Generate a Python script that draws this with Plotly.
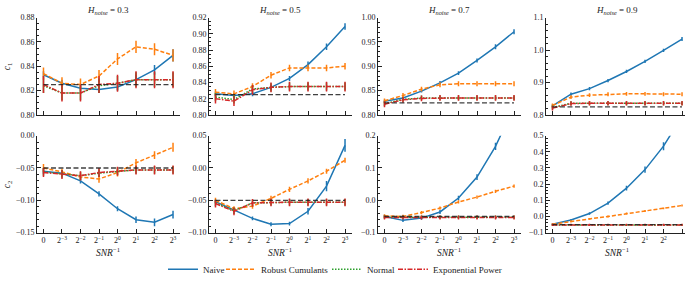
import plotly.graph_objects as go

# ---------------- data ----------------
H_NOISE = ["0.3", "0.5", "0.7", "0.9"]
X_TICKS = ["0", "2<sup>−3</sup>", "2<sup>−2</sup>", "2<sup>−1</sup>", "2<sup>0</sup>",
           "2<sup>1</sup>", "2<sup>2</sup>", "2<sup>3</sup>"]
SERIES = ["Naive", "Robust Cumulants", "Normal", "Exponential Power"]

TRUE_C1 = 0.825
TRUE_C2 = -0.05

# c1 estimates, one list per H_noise
naive_c1 = [
    [0.833, 0.826, 0.822, 0.821, 0.823, 0.829, 0.837, 0.849],
    [0.826, 0.824, 0.826, 0.834, 0.845, 0.862, 0.884, 0.909],
    [0.828, 0.835, 0.849, 0.866, 0.886, 0.912, 0.940, 0.971],
    [0.828, 0.864, 0.881, 0.906, 0.934, 0.965, 0.999, 1.034],
]
robust_c1 = [
    [0.834, 0.826, 0.825, 0.832, 0.846, 0.856, 0.854, 0.849],
    [0.828, 0.826, 0.835, 0.849, 0.858, 0.858, 0.858, 0.860],
    [0.829, 0.840, 0.853, 0.862, 0.864, 0.864, 0.864, 0.864],
    [0.829, 0.855, 0.861, 0.864, 0.865, 0.865, 0.864, 0.864],
]
normal_c1 = [
    [0.824, 0.818, 0.818, 0.824, 0.826, 0.829, 0.829, 0.829],
    [0.822, 0.819, 0.832, 0.834, 0.835, 0.835, 0.835, 0.835],
    [0.823, 0.832, 0.835, 0.835, 0.835, 0.835, 0.835, 0.835],
    [0.823, 0.836, 0.836, 0.836, 0.836, 0.836, 0.836, 0.836],
]
exppow_c1 = [
    [0.825, 0.818, 0.818, 0.825, 0.826, 0.829, 0.829, 0.829],
    [0.820, 0.817, 0.831, 0.834, 0.835, 0.835, 0.835, 0.835],
    [0.822, 0.831, 0.834, 0.835, 0.835, 0.835, 0.835, 0.835],
    [0.821, 0.835, 0.836, 0.836, 0.836, 0.836, 0.836, 0.836],
]

# c2 estimates
naive_c2 = [
    [-0.055, -0.058, -0.070, -0.090, -0.113, -0.130, -0.134, -0.122],
    [-0.052, -0.065, -0.078, -0.087, -0.086, -0.067, -0.028, 0.035],
    [-0.050, -0.062, -0.055, -0.036, 0.007, 0.072, 0.167, 0.290],
    [-0.048, -0.022, 0.018, 0.083, 0.175, 0.290, 0.435, 0.620],
]
robust_c2 = [
    [-0.050, -0.056, -0.064, -0.067, -0.057, -0.042, -0.030, -0.018],
    [-0.050, -0.063, -0.059, -0.047, -0.033, -0.020, -0.005, 0.012],
    [-0.048, -0.050, -0.038, -0.024, -0.005, 0.010, 0.028, 0.044],
    [-0.048, -0.030, -0.015, 0.000, 0.018, 0.034, 0.050, 0.068],
]
normal_c2 = [
    [-0.056, -0.059, -0.062, -0.058, -0.055, -0.053, -0.053, -0.053],
    [-0.054, -0.066, -0.054, -0.053, -0.053, -0.053, -0.053, -0.053],
    [-0.052, -0.052, -0.052, -0.052, -0.052, -0.052, -0.052, -0.052],
    [-0.052, -0.052, -0.052, -0.052, -0.052, -0.052, -0.052, -0.052],
]
exppow_c2 = [
    [-0.057, -0.060, -0.062, -0.057, -0.055, -0.053, -0.053, -0.053],
    [-0.055, -0.067, -0.054, -0.053, -0.053, -0.053, -0.053, -0.053],
    [-0.053, -0.053, -0.053, -0.053, -0.053, -0.053, -0.053, -0.053],
    [-0.052, -0.052, -0.052, -0.052, -0.052, -0.052, -0.052, -0.052],
]

# error bar half-widths
naive_c1_err = [
    [0.003, 0.003, 0.003, 0.003, 0.003, 0.004, 0.004, 0.005],
    [0.003, 0.003, 0.003, 0.003, 0.003, 0.004, 0.004, 0.004],
    [0.003, 0.003, 0.003, 0.004, 0.004, 0.004, 0.005, 0.005],
    [0.005, 0.005, 0.005, 0.005, 0.005, 0.005, 0.005, 0.006],
]
robust_c1_err = [
    [0.005, 0.005, 0.005, 0.005, 0.005, 0.005, 0.005, 0.005],
    [0.004, 0.004, 0.004, 0.004, 0.004, 0.004, 0.004, 0.004],
    [0.005, 0.005, 0.005, 0.005, 0.005, 0.005, 0.005, 0.005],
    [0.006, 0.006, 0.006, 0.006, 0.006, 0.006, 0.006, 0.006],
]
normal_c1_err = [
    [0.006, 0.006, 0.006, 0.006, 0.006, 0.006, 0.006, 0.006],
    [0.005, 0.005, 0.005, 0.005, 0.005, 0.005, 0.005, 0.005],
    [0.005, 0.005, 0.005, 0.005, 0.005, 0.005, 0.005, 0.005],
    [0.006, 0.006, 0.006, 0.006, 0.006, 0.006, 0.006, 0.006],
]
exppow_c1_err = [
    [0.007, 0.007, 0.007, 0.007, 0.007, 0.007, 0.007, 0.007],
    [0.006, 0.006, 0.006, 0.006, 0.006, 0.006, 0.006, 0.006],
    [0.006, 0.006, 0.006, 0.006, 0.006, 0.006, 0.006, 0.006],
    [0.007, 0.007, 0.007, 0.007, 0.007, 0.007, 0.007, 0.007],
]
naive_c2_err = [
    [0.004, 0.004, 0.004, 0.004, 0.004, 0.005, 0.006, 0.006],
    [0.003, 0.003, 0.003, 0.003, 0.003, 0.005, 0.008, 0.010],
    [0.005, 0.005, 0.005, 0.006, 0.007, 0.009, 0.011, 0.013],
    [0.006, 0.006, 0.008, 0.010, 0.015, 0.020, 0.025, 0.030],
]
robust_c2_err = [
    [0.006, 0.005, 0.005, 0.006, 0.006, 0.006, 0.006, 0.007],
    [0.004, 0.004, 0.004, 0.004, 0.004, 0.004, 0.004, 0.004],
    [0.005, 0.005, 0.005, 0.005, 0.005, 0.005, 0.005, 0.005],
    [0.006, 0.006, 0.006, 0.006, 0.006, 0.006, 0.006, 0.006],
]
normal_c2_err = [
    [0.006, 0.006, 0.006, 0.006, 0.006, 0.006, 0.006, 0.006],
    [0.005, 0.005, 0.005, 0.005, 0.005, 0.005, 0.005, 0.005],
    [0.005, 0.005, 0.005, 0.005, 0.005, 0.005, 0.005, 0.005],
    [0.006, 0.006, 0.006, 0.006, 0.006, 0.006, 0.006, 0.006],
]
exppow_c2_err = [
    [0.007, 0.007, 0.007, 0.007, 0.007, 0.007, 0.007, 0.007],
    [0.006, 0.006, 0.006, 0.006, 0.006, 0.006, 0.006, 0.006],
    [0.006, 0.006, 0.006, 0.006, 0.006, 0.006, 0.006, 0.006],
    [0.007, 0.007, 0.007, 0.007, 0.007, 0.007, 0.007, 0.007],
]

# axis ranges and tick steps [min, max, major, minor, fmt]
C1_AXES = [
    [0.80, 0.88, 0.02, 0.005, ".2f"],
    [0.80, 0.92, 0.02, 0.005, ".2f"],
    [0.80, 1.00, 0.05, 0.01, ".2f"],
    [0.80, 1.10, 0.1, 0.02, ".1f"],
]
C2_AXES = [
    [-0.15, 0.00, 0.05, 0.01, ".2f"],
    [-0.10, 0.05, 0.05, 0.01, ".2f"],
    [-0.10, 0.20, 0.1, 0.02, ".1f"],
    [-0.10, 0.50, 0.1, 0.02, ".1f"],
]

# ---------------- styling ----------------
W, H = 685, 284
FONT = "Liberation Serif"
COLORS = ["#1f77b4", "#ff7f0e", "#2ca02c", "#d62728"]
DASHES = ["solid", "4px,2px", "1.5px,1.5px", "5px,1.5px,1.5px,1.5px"]
X = list(range(8))

col_left_px = [37, 209, 378, 546]
col_w_px = 142.5
row_px = [(14.3, 116.7), (138.5, 240.5)]
legend_x_px = [163, 221, 327, 393]
LEGEND_IDS = ["legend", "legend2", "legend3", "legend4"]

fig = go.Figure()

rows = [
    ([naive_c1, robust_c1, normal_c1, exppow_c1],
     [naive_c1_err, robust_c1_err, normal_c1_err, exppow_c1_err], TRUE_C1, C1_AXES),
    ([naive_c2, robust_c2, normal_c2, exppow_c2],
     [naive_c2_err, robust_c2_err, normal_c2_err, exppow_c2_err], TRUE_C2, C2_AXES),
]

axis_idx = 0
for r, (series_list, err_list, truth, axes_spec) in enumerate(rows):
    for c in range(4):
        axis_idx += 1
        xa = "x" if axis_idx == 1 else f"x{axis_idx}"
        ya = "y" if axis_idx == 1 else f"y{axis_idx}"
        for s in range(4):
            fig.add_trace(go.Scatter(
                x=X, y=series_list[s][c], mode="lines",
                name=SERIES[s], legendgroup=SERIES[s], legend=LEGEND_IDS[s],
                showlegend=(axis_idx == 1),
                line=dict(color=COLORS[s], width=1.5, dash=DASHES[s]),
                error_y=dict(type="data", array=err_list[s][c], color=COLORS[s],
                             thickness=1.5, width=0),
                xaxis=xa, yaxis=ya, cliponaxis=True,
            ))
        fig.add_trace(go.Scatter(
            x=[X[0], X[-1]], y=[truth, truth], mode="lines", showlegend=False,
            line=dict(color="rgba(30,30,30,0.85)", width=1.3, dash="5px,2.5px"),
            xaxis=xa, yaxis=ya,
        ))

        x0 = col_left_px[c] / W
        x1 = min((col_left_px[c] + col_w_px) / W, 1.0)
        ppx = col_w_px / 7.7
        xmax = -0.35 + (x1 * W - col_left_px[c]) / ppx
        top, bot = row_px[r]
        ymin, ymax, dmaj, dmin, fmt = axes_spec[c]
        key = "xaxis" if axis_idx == 1 else f"xaxis{axis_idx}"
        ykey = "yaxis" if axis_idx == 1 else f"yaxis{axis_idx}"
        fig.layout[key] = dict(
            domain=[x0, x1], anchor=ya, range=[-0.35, xmax],
            tickvals=X, ticktext=X_TICKS if r == 1 else [""] * 8,
            ticks="inside", ticklen=3.5, tickwidth=1, tickcolor="#222",
            showline=True, linecolor="#222", linewidth=1, mirror=False,
            showgrid=False, zeroline=False,
            tickfont=dict(family=FONT, size=8, color="#222"),
        )
        fig.layout[ykey] = dict(
            domain=[1 - bot / H, 1 - top / H], anchor=xa, range=[ymin, ymax],
            tick0=ymin, dtick=dmaj, tickformat=fmt,
            ticks="inside", ticklen=3.5, tickwidth=1, tickcolor="#222",
            minor=dict(ticks="inside", ticklen=2, tickwidth=0.8, tickcolor="#222",
                       dtick=dmin, tick0=ymin),
            showline=True, linecolor="#222", linewidth=1, mirror=False,
            showgrid=False, zeroline=False,
            tickfont=dict(family=FONT, size=8, color="#222"),
        )

annotations = []
for c in range(4):
    cx = (col_left_px[c] + col_w_px / 2) / W
    cx = min(cx, 1.0)
    annotations.append(dict(
        text=f"<i>H</i><sub><i>noise</i></sub> = {H_NOISE[c]}",
        x=cx, y=1 - 7 / H, xref="paper", yref="paper",
        xanchor="center", yanchor="middle", showarrow=False,
        font=dict(family=FONT, size=9, color="#222"),
    ))
    annotations.append(dict(
        text="<i>SNR</i><sup>−1</sup>",
        x=cx, y=1 - 261 / H, xref="paper", yref="paper",
        xanchor="center", yanchor="middle", showarrow=False,
        font=dict(family=FONT, size=9.5, color="#222"),
    ))
for r, lab in enumerate(["<i>c</i><sub>1</sub>", "<i>c</i><sub>2</sub>"]):
    top, bot = row_px[r]
    annotations.append(dict(
        text=lab, x=7 / W, y=1 - (top + bot) / 2 / H, xref="paper", yref="paper",
        xanchor="center", yanchor="middle", showarrow=False, textangle=-90,
        font=dict(family=FONT, size=9.5, color="#222"),
    ))

fig.update_layout(
    width=W, height=H, margin=dict(l=0, r=0, t=0, b=0),
    paper_bgcolor="white", plot_bgcolor="white",
    annotations=annotations,
    showlegend=True,
)
for lid, lx in zip(LEGEND_IDS, legend_x_px):
    fig.layout[lid] = dict(
        orientation="h", x=lx / W, xanchor="left", y=1 - 279 / H,
        yanchor="middle", font=dict(family=FONT, size=9, color="#222"),
        bgcolor="rgba(0,0,0,0)", itemwidth=30,
    )

fig.write_html("out.html", config={"displayModeBar": False},
               post_script="document.body.style.margin='0';document.body.style.overflow='hidden';")
